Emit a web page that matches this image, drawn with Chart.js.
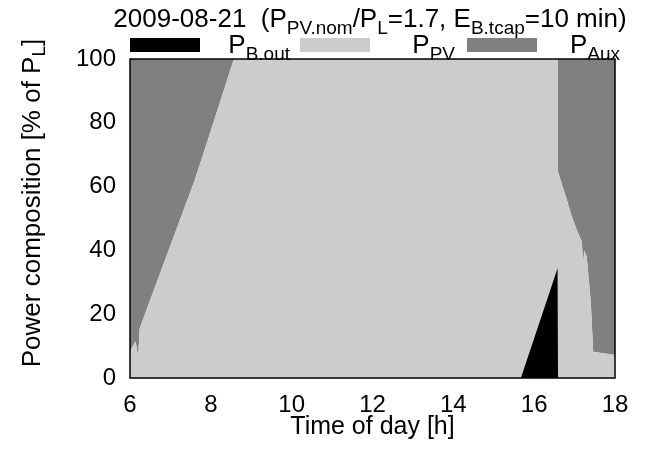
<!DOCTYPE html>
<html>
<head>
<meta charset="utf-8">
<script src="https://cdn.jsdelivr.net/npm/chart.js@4/dist/chart.umd.min.js"></script>
<style>
    body { margin: 0; background: #ffffff; }
    #wrap { width: 646px; height: 450px; }
</style>
</head>
<body>
<div id="wrap"><canvas id="chart-power" width="646" height="450"></canvas></div>
<script>
// time of day [h]
const hours = [6.00, 6.14, 6.18, 6.21, 6.24, 6.50, 7.00, 7.60, 8.00, 8.57, 10.00, 12.00, 14.00, 15.67,
    16.00, 16.58, 16.59, 16.68, 16.81, 16.93, 17.07, 17.18, 17.21, 17.24, 17.30, 17.40, 17.46, 18.00];
// power composition [% of P_L]
const pBout = [0, 0, 0, 0, 0, 0, 0, 0, 0, 0, 0, 0, 0, 0,
    12.5, 34.5, 0, 0, 0, 0, 0, 0, 0, 0, 0, 0, 0, 0];
const pPV = [8.5, 11.5, 8, 8.5, 15.5, 24.5, 41.5, 62, 77.5, 100, 100, 100, 100, 100,
    87.5, 65.5, 64.7, 61, 55.8, 50.6, 45.9, 42.7, 35.5, 40, 38, 24, 8.2, 7.2];
const pAux = [91.5, 88.5, 92, 91.5, 84.5, 75.5, 58.5, 38, 22.5, 0, 0, 0, 0, 0,
    0, 0, 35.3, 39, 44.2, 49.4, 54.1, 57.3, 64.5, 60, 62, 76, 91.8, 92.8];
const xTicks = [6, 8, 10, 12, 14, 16, 18];
const yTicks = [0, 20, 40, 60, 80, 100];

const FONT = "'Liberation Sans', Arial, sans-serif";

function toPoints(values) {
    return hours.map((h, i) => ({ x: h, y: values[i] }));
}

// draw text with subscript parts: [[text, isSub], ...]
function drawRich(ctx, parts, x, y, align) {
    const big = "26px " + FONT;
    const small = "19px " + FONT;
    let total = 0;
    parts.forEach(p => {
        ctx.font = p[1] ? small : big;
        total += ctx.measureText(p[0]).width;
    });
    let cx = x;
    if (align === "center") cx = x - total / 2;
    if (align === "right") cx = x - total;
    parts.forEach(p => {
        ctx.font = p[1] ? small : big;
        ctx.fillText(p[0], cx, p[1] ? y + 7 : y);
        cx += ctx.measureText(p[0]).width;
    });
}

const legendItems = [
    { color: "#000000", box: 130, textEnd: 290, parts: [["P", false], ["B.out", true]] },
    { color: "#cccccc", box: 300, textEnd: 455, parts: [["P", false], ["PV", true]] },
    { color: "#808080", box: 467, textEnd: 620, parts: [["P", false], ["Aux", true]] },
];

const decorPlugin = {
    id: "decor",
    afterDatasetsDraw(chart) {
        const ctx = chart.ctx;
        const a = chart.chartArea;
        ctx.save();
        ctx.strokeStyle = "#000000";
        ctx.lineWidth = 1.5;
        ctx.strokeRect(a.left, a.top, a.right - a.left, a.bottom - a.top);
        ctx.restore();
    },
    afterDraw(chart) {
        const ctx = chart.ctx;
        ctx.save();
        ctx.fillStyle = "#000000";
        ctx.textBaseline = "alphabetic";
        // title
        drawRich(ctx, [["2009-08-21  (P", false], ["PV.nom", true], ["/P", false], ["L", true],
            ["=1.7, E", false], ["B.tcap", true], ["=10 min)", false]], 370, 27, "center");
        // legend
        legendItems.forEach(item => {
            ctx.fillStyle = item.color;
            ctx.fillRect(item.box, 38, 70, 14);
            ctx.fillStyle = "#000000";
            drawRich(ctx, item.parts, item.textEnd, 53, "right");
        });
        // y axis title
        ctx.translate(33, 203);
        ctx.rotate(-Math.PI / 2);
        ctx.textBaseline = "middle";
        drawRich(ctx, [["Power composition [% of P", false], ["L", true], ["]", false]], 0, 0, "center");
        ctx.restore();
    }
};

new Chart(document.getElementById("chart-power"), {
    type: "line",
    data: {
        datasets: [
            {
                label: "P_B.out",
                data: toPoints(pBout),
                backgroundColor: "#000000",
                borderWidth: 0,
                pointRadius: 0,
                fill: "origin",
            },
            {
                label: "P_PV",
                data: toPoints(pPV),
                backgroundColor: "#cccccc",
                borderWidth: 0,
                pointRadius: 0,
                fill: "-1",
            },
            {
                label: "P_Aux",
                data: toPoints(pAux),
                backgroundColor: "#808080",
                borderWidth: 0,
                pointRadius: 0,
                fill: "-1",
            },
        ],
    },
    options: {
        responsive: false,
        animation: false,
        devicePixelRatio: 1,
        layout: { padding: { top: 59, right: 31, left: 0, bottom: 0 } },
        plugins: {
            legend: { display: false },
            title: { display: false },
            tooltip: { enabled: false },
        },
        scales: {
            x: {
                type: "linear",
                min: 6,
                max: 18,
                afterBuildTicks: (s) => { s.ticks = xTicks.map(v => ({ value: v })); },
                afterFit: (s) => { s.height = 72; },
                grid: { display: false },
                border: { display: false },
                ticks: { color: "#000000", padding: 5, font: { family: FONT, size: 24 } },
                title: {
                    display: true,
                    text: "Time of day [h]",
                    color: "#000000",
                    font: { family: FONT, size: 25 },
                    padding: { top: 0, bottom: 8 },
                },
            },
            y: {
                stacked: true,
                min: 0,
                max: 100,
                afterBuildTicks: (s) => { s.ticks = yTicks.map(v => ({ value: v })); },
                afterFit: (s) => { s.width = 130; },
                grid: { display: false },
                border: { display: false },
                ticks: { color: "#000000", padding: 6, font: { family: FONT, size: 24 } },
            },
        },
    },
    plugins: [decorPlugin],
});
</script>
</body>
</html>
